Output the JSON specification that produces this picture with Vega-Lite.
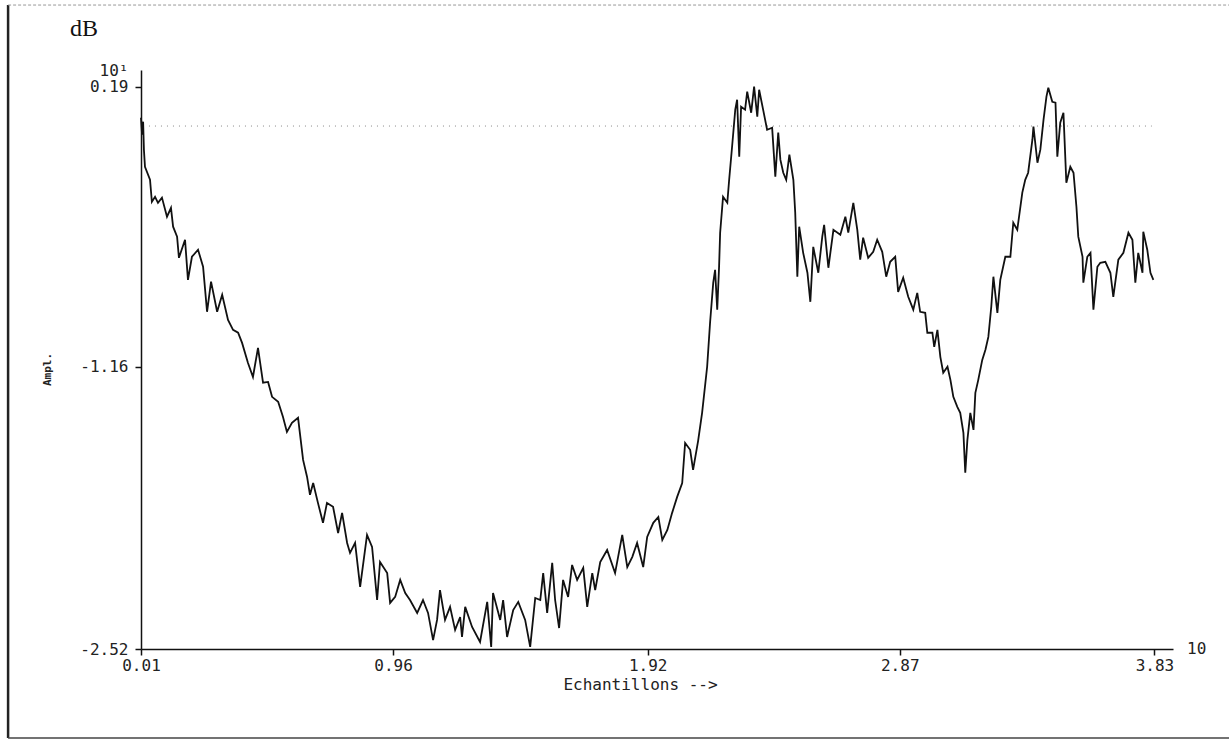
{
 "$schema": "https://vega.github.io/schema/vega-lite/v6.json",
 "width": 1032, "height": 579,
 "autosize": {"type": "none"},
 "padding": {"left": 141, "top": 70, "right": 56, "bottom": 93},
 "background": "white",
 "config": {"view": {"stroke": null}},
 "layer": [
  {
   "data": {"values": [{"k": 1}]},
   "mark": {"type": "rule", "strokeDash": [1, 5], "color": "#888", "strokeWidth": 1},
   "encoding": {"y": {"datum": 0}, "x": {"datum": 0.04}, "x2": {"datum": 3.82}}
  },
  {
   "data": {"values": [{"k": 1}]},
   "mark": {"type": "rule", "color": "#222", "strokeWidth": 2.5, "clip": false},
   "encoding": {"x": {"datum": -0.491}, "y": {"datum": 0.583}, "y2": {"datum": -2.949}}
  },
  {
   "data": {"values": [{"k": 1}]},
   "mark": {"type": "rule", "color": "#444", "strokeWidth": 1.5, "clip": false},
   "encoding": {"y": {"datum": -2.949}, "x": {"datum": -0.491}, "x2": {"datum": 4.12}}
  },
  {
   "data": {"values": [{"k": 1}]},
   "mark": {"type": "rule", "color": "#999", "strokeWidth": 1, "strokeDash": [3, 2], "clip": false},
   "encoding": {"y": {"datum": 0.583}, "x": {"datum": -0.491}, "x2": {"datum": 4.12}}
  },
  {
   "data": {"values": [
{"x":0.010,"y":0.040},{"x":0.014,"y":-0.042},{"x":0.018,"y":0.021},{"x":0.021,"y":-0.114},{"x":0.025,"y":-0.196},
{"x":0.044,"y":-0.259},{"x":0.051,"y":-0.365},{"x":0.063,"y":-0.341},{"x":0.074,"y":-0.370},{"x":0.089,"y":-0.345},
{"x":0.108,"y":-0.437},{"x":0.123,"y":-0.394},{"x":0.131,"y":-0.485},{"x":0.146,"y":-0.533},{"x":0.153,"y":-0.635},
{"x":0.176,"y":-0.548},{"x":0.187,"y":-0.741},{"x":0.202,"y":-0.630},{"x":0.225,"y":-0.596},{"x":0.244,"y":-0.678},
{"x":0.259,"y":-0.895},{"x":0.274,"y":-0.750},{"x":0.297,"y":-0.895},{"x":0.316,"y":-0.813},{"x":0.338,"y":-0.934},
{"x":0.357,"y":-0.982},{"x":0.376,"y":-0.996},{"x":0.391,"y":-1.045},{"x":0.413,"y":-1.141},{"x":0.432,"y":-1.209},
{"x":0.451,"y":-1.069},{"x":0.470,"y":-1.237},{"x":0.489,"y":-1.233},{"x":0.504,"y":-1.305},{"x":0.527,"y":-1.329},
{"x":0.545,"y":-1.401},{"x":0.560,"y":-1.474},{"x":0.579,"y":-1.430},{"x":0.602,"y":-1.406},{"x":0.621,"y":-1.609},
{"x":0.636,"y":-1.691},{"x":0.647,"y":-1.777},{"x":0.659,"y":-1.720},{"x":0.677,"y":-1.816},{"x":0.696,"y":-1.912},
{"x":0.711,"y":-1.816},{"x":0.734,"y":-1.835},{"x":0.753,"y":-1.961},{"x":0.768,"y":-1.864},{"x":0.787,"y":-2.009},
{"x":0.798,"y":-2.057},{"x":0.817,"y":-2.009},{"x":0.836,"y":-2.221},{"x":0.862,"y":-1.970},{"x":0.881,"y":-2.028},
{"x":0.900,"y":-2.284},{"x":0.911,"y":-2.101},{"x":0.938,"y":-2.154},{"x":0.949,"y":-2.298},{"x":0.968,"y":-2.269},
{"x":0.987,"y":-2.187},{"x":1.006,"y":-2.250},{"x":1.024,"y":-2.284},{"x":1.051,"y":-2.346},{"x":1.073,"y":-2.284},
{"x":1.092,"y":-2.346},{"x":1.111,"y":-2.477},{"x":1.126,"y":-2.380},{"x":1.137,"y":-2.236},{"x":1.156,"y":-2.380},
{"x":1.175,"y":-2.317},{"x":1.194,"y":-2.428},{"x":1.213,"y":-2.366},{"x":1.220,"y":-2.462},{"x":1.232,"y":-2.317},
{"x":1.258,"y":-2.414},{"x":1.288,"y":-2.486},{"x":1.315,"y":-2.293},{"x":1.330,"y":-2.510},{"x":1.337,"y":-2.250},
{"x":1.364,"y":-2.380},{"x":1.375,"y":-2.284},{"x":1.390,"y":-2.462},{"x":1.413,"y":-2.332},{"x":1.432,"y":-2.293},
{"x":1.458,"y":-2.380},{"x":1.477,"y":-2.510},{"x":1.496,"y":-2.274},{"x":1.515,"y":-2.284},{"x":1.526,"y":-2.154},
{"x":1.541,"y":-2.346},{"x":1.560,"y":-2.105},{"x":1.571,"y":-2.284},{"x":1.586,"y":-2.419},{"x":1.601,"y":-2.187},
{"x":1.620,"y":-2.269},{"x":1.635,"y":-2.115},{"x":1.654,"y":-2.187},{"x":1.677,"y":-2.129},{"x":1.692,"y":-2.317},
{"x":1.711,"y":-2.154},{"x":1.722,"y":-2.236},{"x":1.741,"y":-2.101},{"x":1.767,"y":-2.043},{"x":1.797,"y":-2.154},
{"x":1.824,"y":-1.970},{"x":1.843,"y":-2.125},{"x":1.862,"y":-2.076},{"x":1.880,"y":-2.009},{"x":1.903,"y":-2.125},
{"x":1.918,"y":-1.980},{"x":1.941,"y":-1.912},{"x":1.960,"y":-1.884},{"x":1.975,"y":-1.994},{"x":1.994,"y":-1.946},
{"x":2.012,"y":-1.864},{"x":2.031,"y":-1.787},{"x":2.050,"y":-1.720},{"x":2.061,"y":-1.527},{"x":2.080,"y":-1.560},
{"x":2.091,"y":-1.657},{"x":2.110,"y":-1.517},{"x":2.125,"y":-1.382},{"x":2.144,"y":-1.160},{"x":2.155,"y":-0.948},
{"x":2.167,"y":-0.755},{"x":2.174,"y":-0.693},{"x":2.182,"y":-0.885},{"x":2.189,"y":-0.678},{"x":2.193,"y":-0.514},
{"x":2.204,"y":-0.341},{"x":2.220,"y":-0.370},{"x":2.227,"y":-0.259},{"x":2.238,"y":-0.100},{"x":2.250,"y":0.079},
{"x":2.257,"y":0.127},{"x":2.265,"y":-0.148},{"x":2.272,"y":0.093},{"x":2.287,"y":0.079},{"x":2.295,"y":0.166},
{"x":2.310,"y":0.064},{"x":2.321,"y":0.190},{"x":2.333,"y":0.045},{"x":2.340,"y":0.175},{"x":2.355,"y":0.079},
{"x":2.370,"y":-0.018},{"x":2.389,"y":-0.008},{"x":2.401,"y":-0.244},{"x":2.412,"y":-0.032},{"x":2.420,"y":-0.162},
{"x":2.431,"y":-0.225},{"x":2.442,"y":-0.259},{"x":2.454,"y":-0.138},{"x":2.469,"y":-0.259},{"x":2.476,"y":-0.418},
{"x":2.484,"y":-0.726},{"x":2.491,"y":-0.485},{"x":2.506,"y":-0.611},{"x":2.522,"y":-0.707},{"x":2.533,"y":-0.847},
{"x":2.544,"y":-0.582},{"x":2.563,"y":-0.707},{"x":2.578,"y":-0.533},{"x":2.585,"y":-0.476},{"x":2.601,"y":-0.683},
{"x":2.620,"y":-0.500},{"x":2.646,"y":-0.524},{"x":2.665,"y":-0.437},{"x":2.676,"y":-0.514},{"x":2.695,"y":-0.370},
{"x":2.710,"y":-0.500},{"x":2.721,"y":-0.644},{"x":2.732,"y":-0.538},{"x":2.751,"y":-0.635},{"x":2.770,"y":-0.606},
{"x":2.785,"y":-0.548},{"x":2.804,"y":-0.606},{"x":2.819,"y":-0.726},{"x":2.834,"y":-0.654},{"x":2.853,"y":-0.630},
{"x":2.864,"y":-0.799},{"x":2.883,"y":-0.731},{"x":2.902,"y":-0.823},{"x":2.921,"y":-0.885},{"x":2.936,"y":-0.804},
{"x":2.947,"y":-0.895},{"x":2.966,"y":-0.900},{"x":2.974,"y":-0.996},{"x":2.993,"y":-0.996},{"x":3.000,"y":-1.064},
{"x":3.012,"y":-0.982},{"x":3.023,"y":-1.112},{"x":3.034,"y":-1.189},{"x":3.050,"y":-1.160},{"x":3.061,"y":-1.223},
{"x":3.072,"y":-1.305},{"x":3.087,"y":-1.353},{"x":3.098,"y":-1.382},{"x":3.110,"y":-1.479},{"x":3.117,"y":-1.671},
{"x":3.125,"y":-1.512},{"x":3.136,"y":-1.382},{"x":3.148,"y":-1.464},{"x":3.155,"y":-1.286},{"x":3.166,"y":-1.223},
{"x":3.181,"y":-1.127},{"x":3.193,"y":-1.078},{"x":3.204,"y":-1.016},{"x":3.215,"y":-0.871},{"x":3.223,"y":-0.726},
{"x":3.238,"y":-0.900},{"x":3.249,"y":-0.741},{"x":3.268,"y":-0.630},{"x":3.287,"y":-0.630},{"x":3.298,"y":-0.466},
{"x":3.313,"y":-0.500},{"x":3.332,"y":-0.321},{"x":3.343,"y":-0.259},{"x":3.354,"y":-0.225},{"x":3.370,"y":-0.066},
{"x":3.374,"y":-0.003},{"x":3.389,"y":-0.177},{"x":3.400,"y":-0.114},{"x":3.412,"y":0.031},{"x":3.423,"y":0.142},
{"x":3.430,"y":0.185},{"x":3.445,"y":0.117},{"x":3.457,"y":0.113},{"x":3.464,"y":-0.148},{"x":3.475,"y":0.016},
{"x":3.487,"y":0.064},{"x":3.498,"y":-0.273},{"x":3.513,"y":-0.196},{"x":3.525,"y":-0.225},{"x":3.536,"y":-0.389},
{"x":3.543,"y":-0.533},{"x":3.559,"y":-0.630},{"x":3.562,"y":-0.755},{"x":3.577,"y":-0.630},{"x":3.589,"y":-0.611},
{"x":3.600,"y":-0.885},{"x":3.615,"y":-0.678},{"x":3.626,"y":-0.659},{"x":3.645,"y":-0.654},{"x":3.664,"y":-0.707},
{"x":3.675,"y":-0.823},{"x":3.694,"y":-0.644},{"x":3.713,"y":-0.611},{"x":3.732,"y":-0.514},{"x":3.747,"y":-0.548},
{"x":3.758,"y":-0.755},{"x":3.769,"y":-0.611},{"x":3.785,"y":-0.707},{"x":3.788,"y":-0.509},{"x":3.803,"y":-0.596},
{"x":3.815,"y":-0.707},{"x":3.826,"y":-0.741}
   ]},
   "mark": {"type": "line", "color": "#111", "strokeWidth": 1.8, "interpolate": "linear"},
   "encoding": {
    "x": {"field": "x", "type": "quantitative",
      "scale": {"domain": [0.01, 3.9], "nice": false, "zero": false},
      "axis": {"values": [0.01, 0.96, 1.92, 2.87, 3.83], "format": ".2f", "grid": false,
        "domainColor": "#111", "domainWidth": 1.5, "tickColor": "#111", "tickWidth": 1.5, "tickSize": 6,
        "labelFont": "DejaVu Sans Mono", "labelFontSize": 16, "labelColor": "#222", "labelPadding": 2,
        "labelFlush": false, "labelOverlap": false,
        "title": "Echantillons -->", "titleFont": "DejaVu Sans Mono", "titleFontSize": 16, "titleFontWeight": "normal",
        "titleColor": "#222", "titleX": 499, "titleY": 35, "titleBaseline": "middle", "titleAlign": "center"}},
    "y": {"field": "y", "type": "quantitative",
      "scale": {"domain": [-2.52, 0.27], "nice": false, "zero": false},
      "axis": {"values": [-2.52, -1.16, 0.19, 0.27], "grid": false,
        "labelExpr": "datum.value < -2 ? '-2.52' : datum.value < -1 ? '-1.16' : datum.value < 0.25 ? '0.19' : '10¹'",
        "tickOpacity": {"condition": {"test": "datum.value > 0.25", "value": 0}, "value": 1},
        "domainColor": "#111", "domainWidth": 1.5, "tickColor": "#111", "tickWidth": 1.5, "tickSize": 6,
        "labelFont": "DejaVu Sans Mono", "labelFontSize": 16, "labelColor": "#222", "labelPadding": 7,
        "labelFlush": false, "labelOverlap": false,
        "title": "Ampl.", "titleFont": "DejaVu Sans Mono", "titleFontSize": 11, "titleFontWeight": "bold",
        "titleColor": "#222", "titleX": -94, "titleY": 299, "titleAngle": -90, "titleAlign": "center", "titleBaseline": "middle"}}
   }
  },
  {
   "data": {"values": [{"k": 1}]},
   "mark": {"type": "text", "text": "10", "align": "left", "baseline": "middle", "dx": 14, "font": "DejaVu Sans Mono", "fontSize": 16, "color": "#222"},
   "encoding": {"x": {"datum": 3.9}, "y": {"datum": -2.52}}
  },
  {
   "data": {"values": [{"k": 1}]},
   "mark": {"type": "text", "text": "dB", "align": "left", "baseline": "middle", "dx": -71, "dy": -41, "font": "Liberation Serif", "fontSize": 24, "color": "#111", "clip": false},
   "encoding": {"x": {"datum": 0.01}, "y": {"datum": 0.27}}
  }
 ]
}
